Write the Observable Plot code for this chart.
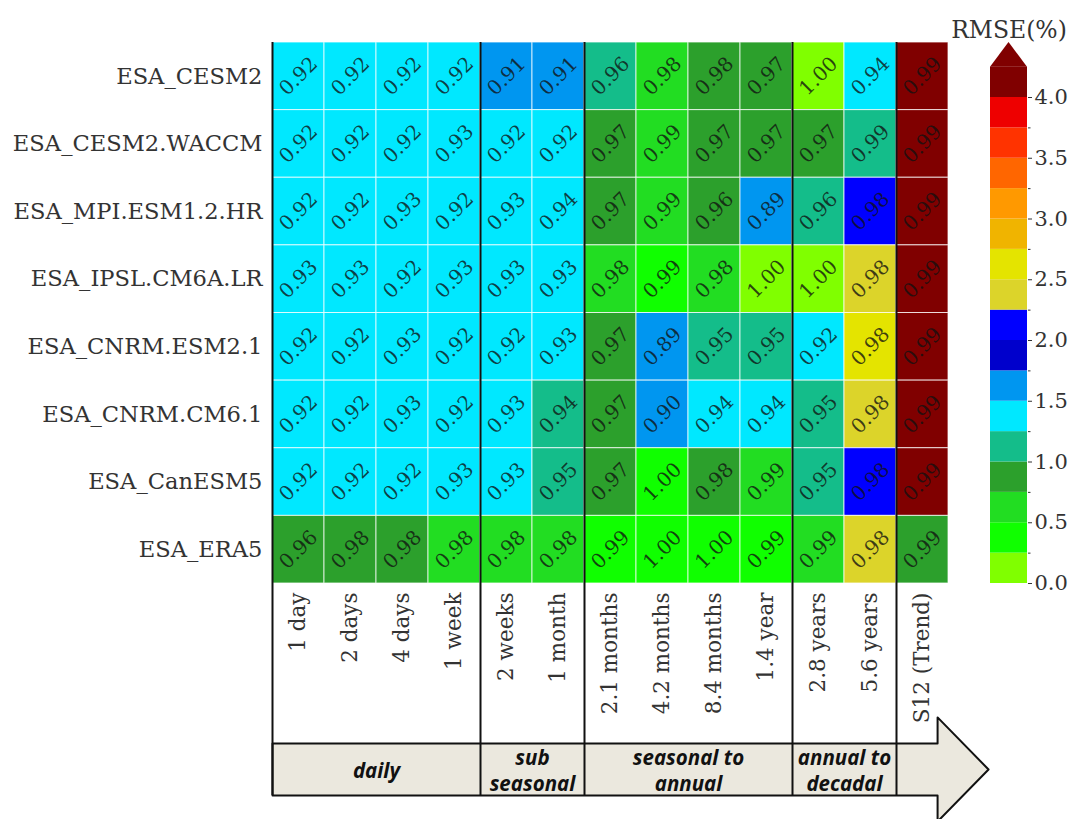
<!DOCTYPE html>
<html><head><meta charset="utf-8">
<script src="https://cdn.jsdelivr.net/npm/d3@7"></script>
<script src="https://cdn.jsdelivr.net/npm/@observablehq/plot@0.6"></script>
<style>
html,body{margin:0;padding:0;background:#fff;}
#wrap{position:relative;width:1071px;height:819px;overflow:hidden;background:#fff;}
#wrap svg{position:absolute;top:0;}
</style></head><body><div id="wrap"></div>
<script>
// ---- data ----
const rows = ["ESA_CESM2","ESA_CESM2.WACCM","ESA_MPI.ESM1.2.HR","ESA_IPSL.CM6A.LR","ESA_CNRM.ESM2.1","ESA_CNRM.CM6.1","ESA_CanESM5","ESA_ERA5"];
const columns = ["1 day","2 days","4 days","1 week","2 weeks","1 month","2.1 months","4.2 months","8.4 months","1.4 year","2.8 years","5.6 years","S12 (Trend)"];
// RMSE (%) per cell (colour)
const rmse = [
  [1.38,1.40,1.42,1.41,1.62,1.60,1.12,0.62,0.88,0.92,0.15,1.45,4.60],
  [1.40,1.41,1.43,1.38,1.42,1.40,0.85,0.60,0.90,0.88,0.92,1.05,4.60],
  [1.39,1.41,1.36,1.40,1.37,1.33,0.87,0.58,0.93,1.68,1.15,2.15,4.60],
  [1.35,1.36,1.40,1.37,1.36,1.35,0.65,0.40,0.70,0.18,0.12,2.35,4.60],
  [1.40,1.42,1.37,1.41,1.40,1.36,0.88,1.70,1.10,1.12,1.40,2.60,4.60],
  [1.41,1.42,1.38,1.40,1.37,1.15,0.90,1.65,1.30,1.32,1.10,2.40,4.60],
  [1.42,1.43,1.41,1.38,1.36,1.08,0.86,0.35,0.80,0.62,1.12,2.12,4.60],
  [0.95,0.80,0.85,0.68,0.66,0.62,0.45,0.30,0.32,0.42,0.60,2.42,0.78]
];
// correlation per cell (annotation)
const corr = [
  [0.92,0.92,0.92,0.92,0.91,0.91,0.96,0.98,0.98,0.97,1.00,0.94,0.99],
  [0.92,0.92,0.92,0.93,0.92,0.92,0.97,0.99,0.97,0.97,0.97,0.99,0.99],
  [0.92,0.92,0.93,0.92,0.93,0.94,0.97,0.99,0.96,0.89,0.96,0.98,0.99],
  [0.93,0.93,0.92,0.93,0.93,0.93,0.98,0.99,0.98,1.00,1.00,0.98,0.99],
  [0.92,0.92,0.93,0.92,0.92,0.93,0.97,0.89,0.95,0.95,0.92,0.98,0.99],
  [0.92,0.92,0.93,0.92,0.93,0.94,0.97,0.90,0.94,0.94,0.95,0.98,0.99],
  [0.92,0.92,0.92,0.93,0.93,0.95,0.97,1.00,0.98,0.99,0.95,0.98,0.99],
  [0.96,0.98,0.98,0.98,0.98,0.98,0.99,1.00,1.00,0.99,0.99,0.98,0.99]
];
const thresholds = [0.25,0.5,0.75,1.0,1.25,1.5,1.75,2.0,2.25,2.5,2.75,3.0,3.25,3.5,3.75,4.0];
const colors = ["#80ff00","#10ff00","#22dd22","#2ca02c","#14bd8a","#00e8ff","#0096f0","#0000cc","#0000ff","#dcd42a","#e4e400","#f0b400","#ff9900","#ff6600","#ff3300","#ee0000","#800000"];
const majorTicks = [0,0.5,1.0,1.5,2.0,2.5,3.0,3.5,4.0];
const minorTicks = [0.25,0.75,1.25,1.75,2.25,2.75,3.25,3.75];
const groupNames = ["daily","sub\nseasonal","seasonal to\nannual","annual to\ndecadal"];
const groupStart = [0,4,6,10];
const groupEnd = [4,6,10,12];
const separators = [0,4,6,10,12];

// ---- derived tables ----
const cells = [];
rows.forEach((r,j)=>columns.forEach((c,i)=>cells.push({i,j,rmse:rmse[j][i],corr:corr[j][i]})));
const groups = groupNames.map((name,k)=>({name,start:groupStart[k],end:groupEnd[k]}));
const colorScale = {type:"threshold", domain:thresholds, range:colors};

// arrow annotation geometry (in column / row units)
const nC = columns.length;
const boxTop = 10.366, boxBot = 11.135, headTop = 9.98, headBot = 11.52, shaftEnd = nC - 0.21, tipX = nC + 0.77;
const arrow = [
  {x:0,y:boxTop},{x:shaftEnd,y:boxTop},{x:shaftEnd,y:headTop},{x:tipX,y:(headTop+headBot)/2},
  {x:shaftEnd,y:headBot},{x:shaftEnd,y:boxBot},{x:0,y:boxBot},{x:0,y:boxTop}
];

const serif = "DejaVu Serif";
const main = Plot.plot({
  width:1071, height:819,
  marginLeft:272, marginRight:123, marginTop:42, marginBottom:236,
  x:{domain:[0,nC], axis:null},
  y:{domain:[0,rows.length], reverse:true, axis:null},
  color:colorScale,
  style:{background:"transparent"},
  marks:[
    Plot.rect(cells,{x1:d=>d.i, x2:d=>d.i+1, y1:d=>d.j, y2:d=>d.j+1, fill:"rmse", stroke:"white", strokeWidth:1, strokeOpacity:0.75}),
    Plot.text(cells,{x:d=>d.i+0.5, y:d=>d.j+0.5, text:d=>d.corr.toFixed(2), rotate:-45, fontSize:20, fontFamily:serif, fill:"#111", fillOpacity:0.78}),
    Plot.axisX({anchor:"bottom", ticks:columns.map((c,i)=>i+0.5), tickFormat:v=>columns[Math.floor(v)], tickRotate:-90, tickSize:0, tickPadding:9, fontSize:21.5, fontFamily:serif, color:"#333", label:null}),
    Plot.axisY({anchor:"left", ticks:rows.map((r,j)=>j+0.5), tickFormat:v=>rows[Math.floor(v)], tickSize:0, tickPadding:10, fontSize:22.6, fontFamily:serif, color:"#333", label:null}),
    Plot.line(arrow,{x:"x", y:"y", fill:"#ebe8de", stroke:"#111", strokeWidth:2}),
    Plot.ruleX(separators,{x:d=>d, y1:d=>0, y2:d=>boxBot, stroke:"#111", strokeWidth:2}),
    Plot.text(groups,{x:d=>(d.start+d.end)/2, y:d=>(boxTop+boxBot)/2, text:"name", fontFamily:"Open Sans", fontWeight:"bold", fontStyle:"italic", fontSize:20.5, lineHeight:1.27, fill:"#111"})
  ]
});
main.style.left = "0px";

// ---- colorbar ----
const edges = [0, ...thresholds, 4.25];
const bins = edges.slice(0,-1).map((lo,k)=>({lo, hi:edges[k+1]}));
const tri = [{x:0,y1:4.25,y2:4.25},{x:0.5,y1:4.25,y2:4.453},{x:1,y1:4.25,y2:4.25}];
const cb = Plot.plot({
  width:131, height:819,
  marginLeft:50, marginRight:44, marginTop:97, marginBottom:236,
  x:{domain:[0,1], axis:null},
  y:{domain:[0,4], axis:null},
  color:colorScale,
  style:{background:"transparent"},
  marks:[
    Plot.rect(bins,{x1:d=>0, x2:d=>1, y1:d=>d.lo, y2:d=>d.hi, fill:d=>(d.lo+d.hi)/2}),
    Plot.areaY(tri,{x:"x", y1:"y1", y2:"y2", fill:colors[colors.length-1]}),
    Plot.axisY({anchor:"right", ticks:majorTicks, tickFormat:d3.format(".1f"), tickSize:4, tickPadding:3, fontSize:21, fontFamily:serif, color:"#333", label:null}),
    Plot.axisY({anchor:"right", ticks:minorTicks, tickSize:2.5, tickFormat:()=>"", color:"#333", label:null}),
    Plot.text(["RMSE(%)"],{frameAnchor:"top", dy:-60, lineAnchor:"bottom", text:d=>d, fontSize:23.5, fontFamily:serif, fill:"#333"})
  ]
});
cb.style.left = "940px";

const wrap = document.getElementById("wrap");
wrap.appendChild(main);
wrap.appendChild(cb);
</script></body></html>
